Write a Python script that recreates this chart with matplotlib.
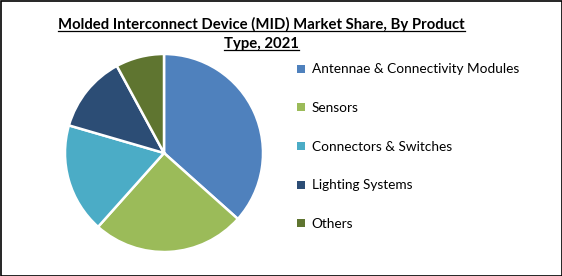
import matplotlib.pyplot as plt
from matplotlib.patches import Rectangle, Patch
from matplotlib.lines import Line2D

# data
product_types = ["Antennae & Connectivity Modules", "Sensors", "Connectors & Switches",
                 "Lighting Systems", "Others"]
shares = [36.6, 25.0, 17.9, 12.6, 7.9]
colors = ["#4F81BD", "#9BBB59", "#4BACC6", "#2C4D75", "#5F7530"]

plt.rcParams['font.family'] = ['Lato', 'DejaVu Sans']

W, H = 562, 276
fig = plt.figure(figsize=(W / 100, H / 100), dpi=100)

# pie: centre about (164, 153) px, radius 100 px
ax = fig.add_axes([64 / W, (H - 253) / H, 200 / W, 200 / H])
ax.pie(shares, colors=colors, startangle=90, counterclock=False,
       wedgeprops=dict(edgecolor="white", linewidth=1.8))
ax.set_xlim(-1.01, 1.01)
ax.set_ylim(-1.01, 1.01)
ax.set_aspect("equal")

# title, underlined by hand
title_lines = ["Molded Interconnect Device (MID) Market Share, By Product", "Type, 2021"]
title_y = [H - 24, H - 44]
texts = []
for line, y in zip(title_lines, title_y):
    t = fig.text(0.465, y / H, line, ha="center", va="center",
                 fontsize=10.7, fontweight="bold")
    texts.append(t)
fig.canvas.draw()
r = fig.canvas.get_renderer()
for t in texts:
    bb = t.get_window_extent(r)
    yl = (bb.y0 + 1) / H
    fig.add_artist(Line2D([bb.x0 / W, bb.x1 / W], [yl, yl], color="black", lw=0.9))

# legend
handles = [Patch(facecolor=c, edgecolor="none") for c in colors]
fig.legend(handles, product_types, loc="upper left",
           bbox_to_anchor=(292 / W, (H - 58) / H), frameon=False,
           fontsize=9.8, handlelength=0.55, handleheight=0.55,
           handletextpad=0.5, labelspacing=1.96, borderaxespad=0)

# outer border
fig.add_artist(Rectangle((0.5 / W, 0.5 / H), (W - 1) / W, (H - 1) / H,
                         transform=fig.transFigure, fill=False,
                         edgecolor="black", linewidth=1.2))

fig.savefig("out.png", dpi=100)
